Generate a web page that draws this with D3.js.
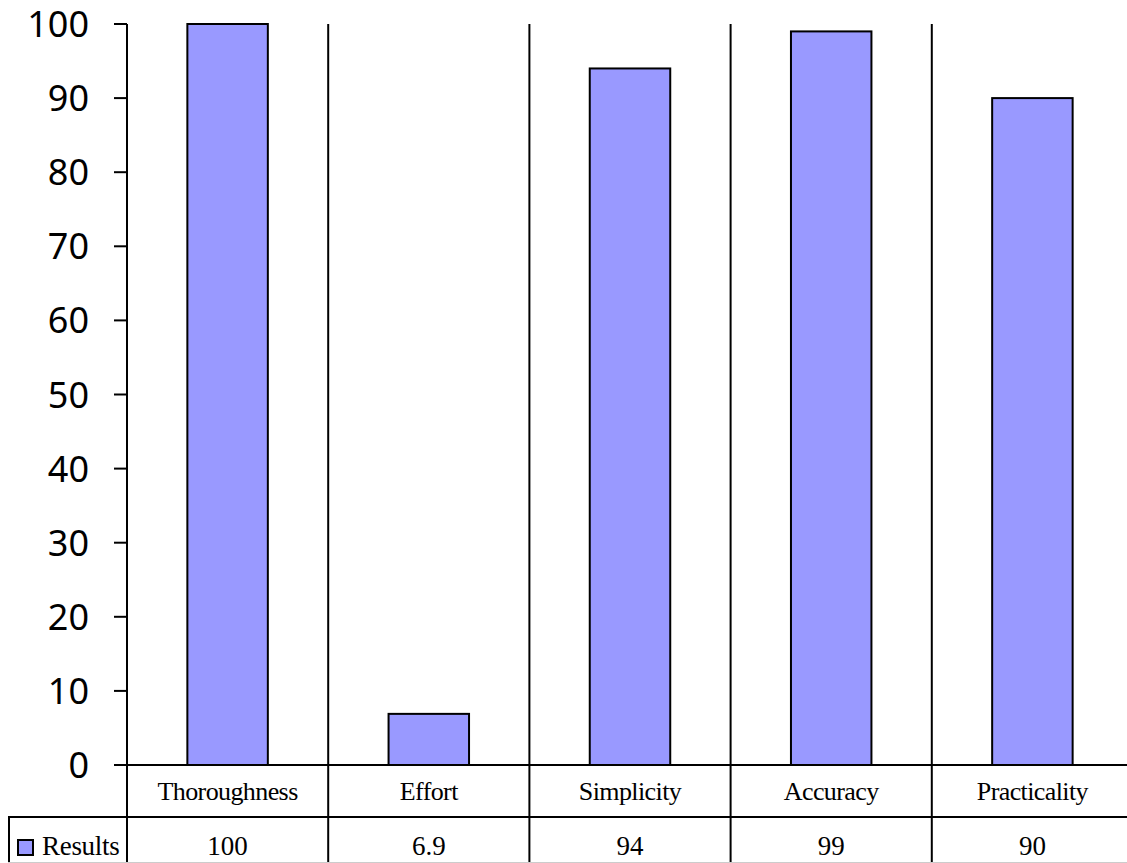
<!DOCTYPE html>
<html>
<head>
<meta charset="utf-8">
<script src="https://cdn.jsdelivr.net/npm/d3@7"></script>
<style>
  body { margin: 0; background: #fff; }
  svg { display: block; }
</style>
</head>
<body>
<svg width="1127" height="863"></svg>
<script>
let categories = ["Thoroughness", "Effort", "Simplicity", "Accuracy", "Practicality"];
let results = [100, 6.9, 94, 99, 90];
let valueLabels = ["100", "6.9", "94", "99", "90"];
let yTicks = [0, 10, 20, 30, 40, 50, 60, 70, 80, 90, 100];
let seriesName = "Results";

let svg = d3.select("svg"),
    width = +svg.attr("width"),
    height = +svg.attr("height");

let barColor = "#9999ff";
let plotLeft = 127, plotTop = 24, zeroY = 765, row1 = 817;

let x = d3.scaleBand()
  .domain(categories)
  .range([plotLeft, 1133])
  .padding(0);

let y = d3.scaleLinear()
  .domain([0, 100])
  .range([zeroY, plotTop]);

// y tick labels and ticks
let yAxis = svg.append("g");
yAxis.selectAll("line")
  .data(yTicks)
  .enter().append("line")
  .attr("x1", plotLeft - 13).attr("x2", plotLeft)
  .attr("y1", d => y(d)).attr("y2", d => y(d))
  .attr("stroke", "#000").attr("stroke-width", 2);

yAxis.selectAll("text")
  .data(yTicks)
  .enter().append("text")
  .attr("x", 89)
  .attr("y", d => y(d) + 13)
  .attr("text-anchor", "end")
  .attr("font-family", "'Noto Sans', sans-serif")
  .attr("font-size", 36)
  .attr("fill", "#000")
  .text(d => d);

// category separators (run down through the table)
svg.append("g").selectAll("line")
  .data(categories)
  .enter().append("line")
  .attr("x1", d => x(d)).attr("x2", d => x(d))
  .attr("y1", plotTop).attr("y2", height)
  .attr("stroke", "#000").attr("stroke-width", 2);

// bars
let barW = x.bandwidth() * 0.4;
svg.append("g").selectAll("rect")
  .data(categories.map((c, i) => ({c, v: results[i]})))
  .enter().append("rect")
  .attr("x", d => x(d.c) + (x.bandwidth() - barW) / 2)
  .attr("y", d => y(d.v))
  .attr("width", barW)
  .attr("height", d => y(0) - y(d.v))
  .attr("fill", barColor)
  .attr("stroke", "#000").attr("stroke-width", 2);

// table lines
svg.append("line")
  .attr("x1", plotLeft - 13).attr("x2", width)
  .attr("y1", zeroY).attr("y2", zeroY)
  .attr("stroke", "#000").attr("stroke-width", 2);
svg.append("line")
  .attr("x1", 8).attr("x2", width)
  .attr("y1", row1).attr("y2", row1)
  .attr("stroke", "#000").attr("stroke-width", 2);
svg.append("line")
  .attr("x1", 9).attr("x2", 9)
  .attr("y1", row1).attr("y2", height)
  .attr("stroke", "#000").attr("stroke-width", 2);
svg.append("line")
  .attr("x1", 8).attr("x2", width)
  .attr("y1", 862.5).attr("y2", 862.5)
  .attr("stroke", "#ccc").attr("stroke-width", 1);

// category labels
svg.append("g").selectAll("text")
  .data(categories)
  .enter().append("text")
  .attr("x", d => x(d) + x.bandwidth() / 2)
  .attr("y", 800)
  .attr("text-anchor", "middle")
  .attr("font-family", "'Liberation Serif', 'Times New Roman', serif")
  .attr("font-size", 26)
  .attr("letter-spacing", -0.6)
  .attr("fill", "#000")
  .text(d => d);

// value row
svg.append("g").selectAll("text")
  .data(categories.map((c, i) => ({c, t: valueLabels[i]})))
  .enter().append("text")
  .attr("x", d => x(d.c) + x.bandwidth() / 2)
  .attr("y", 855)
  .attr("text-anchor", "middle")
  .attr("font-family", "'Liberation Serif', 'Times New Roman', serif")
  .attr("font-size", 27)
  .attr("fill", "#000")
  .text(d => d.t);

// legend key
svg.append("rect")
  .attr("x", 18).attr("y", 840)
  .attr("width", 15).attr("height", 15)
  .attr("fill", barColor)
  .attr("stroke", "#000").attr("stroke-width", 2);
svg.append("text")
  .attr("x", 42).attr("y", 855)
  .attr("font-family", "'Liberation Serif', 'Times New Roman', serif")
  .attr("font-size", 27)
  .attr("letter-spacing", -0.3)
  .attr("fill", "#000")
  .text(seriesName);
</script>
</body>
</html>
